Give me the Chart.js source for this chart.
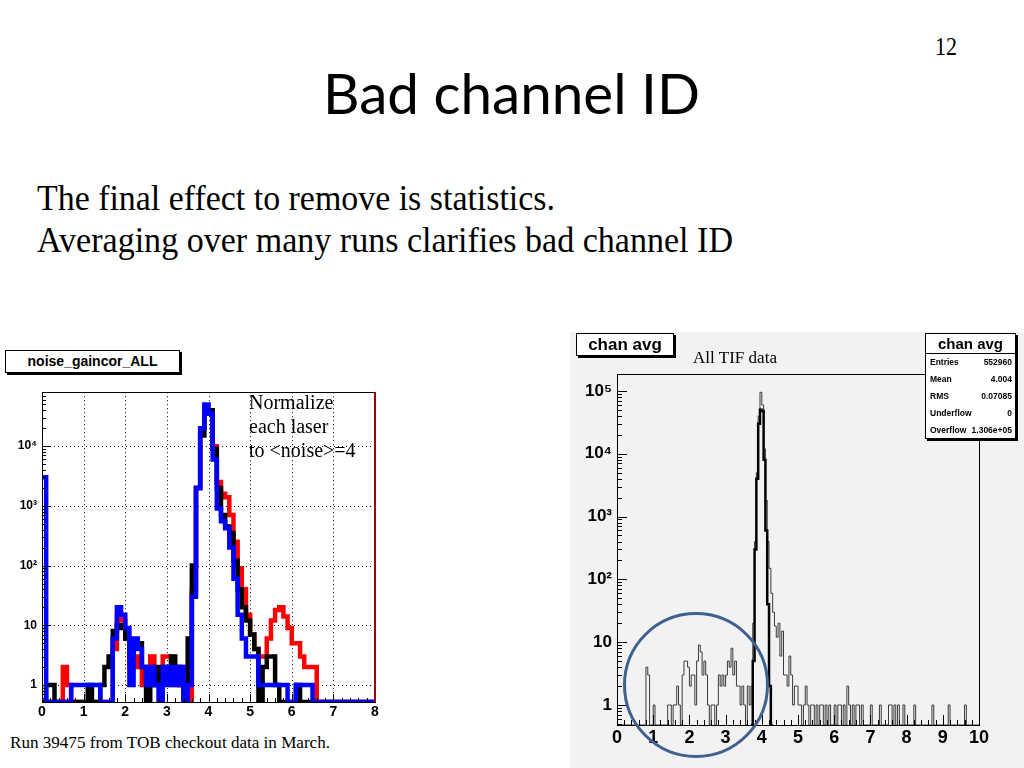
<!DOCTYPE html>
<html>
<head>
<meta charset="utf-8">
<script src="https://cdn.jsdelivr.net/npm/chart.js@4.4.0/dist/chart.umd.min.js"></script>
<style>
  body { margin:0; width:1024px; height:768px; position:relative; overflow:hidden; background:#fff; }
  .t { position:absolute; white-space:nowrap; line-height:1; transform-origin:0 0; font-family:"Liberation Serif","Times New Roman",serif; color:#000; }
  #title { font-family:Lato,"Open Sans",sans-serif; font-size:56px; left:323px; top:65px; }
  .box { position:absolute; background:#fff; border:1px solid #000; box-shadow:2px 2px 0 #000;
         font-family:"Liberation Sans",Arial,sans-serif; font-weight:bold; text-align:center; z-index:3; }
  #pad { position:absolute; left:570px; top:332px; width:454px; height:436px; background:#f2f2f2; }
  canvas { position:absolute; }
  #stats { position:absolute; left:925px; top:333px; width:89px; height:104px; background:#fff;
           border:1px solid #000; box-shadow:2px 2px 0 #000; z-index:3;
           font-family:"Liberation Sans",Arial,sans-serif; font-weight:bold; }
  #stats .sh { height:19px; line-height:19px; font-size:15px; text-align:center; border-bottom:1px solid #000; }
  #stats .sr { display:flex; justify-content:space-between; padding:0 3px 0 4px; height:17px; line-height:17px; font-size:8.5px; }
  #ring { position:absolute; left:623px; top:612px; width:140px; height:140px; border:3px solid #3f6190;
          border-radius:50%; z-index:4; }
</style>
</head>
<body>

<div class="t" style="font-size:26px;left:935px;top:34px" data-w="22">12</div>
<div class="t" id="title" data-w="377">Bad channel ID</div>
<div class="t" style="font-size:36px;left:37px;top:180px" data-w="518">The final effect to remove is statistics.</div>
<div class="t" style="font-size:36px;left:37px;top:222px" data-w="696">Averaging over many runs clarifies bad channel ID</div>

<div class="box" style="left:5px;top:350px;width:173px;height:21px;line-height:21px;font-size:14px">noise_gaincor_ALL</div>
<canvas id="left" width="385" height="345" style="left:0;top:380px"></canvas>
<div class="t" style="font-size:20px;left:249px;top:392px;z-index:2">Normalize</div>
<div class="t" style="font-size:20px;left:249px;top:416px;z-index:2">each laser</div>
<div class="t" style="font-size:20px;left:249px;top:440px;z-index:2">to &lt;noise&gt;=4</div>
<div class="t" style="font-size:16px;left:10px;top:735px" data-w="320">Run 39475 from TOB checkout data in March.</div>

<div id="pad"></div>
<canvas id="right" width="454" height="436" style="left:570px;top:332px"></canvas>
<div class="box" style="left:576px;top:333px;width:96px;height:21px;line-height:21px;font-size:17px">chan avg</div>
<div class="t" style="font-size:16px;left:693px;top:350px;z-index:2" data-w="84">All TIF data</div>
<div id="stats"></div>
<div id="ring"></div>

<script>
// ---- left plot: noise_gaincor_ALL, bins of 0.1 from 0 to 8 ----
var leftBinWidth = 0.1;
var laserBlue = [
  3000,0,0,0,0,0,0,1,1,1,   1,1,1,1,0,0,0,6,20,15,
  9,1,6,4,2,1,2,1,0,2,      1,2,1,2,0,1,30,2000,20000,50000,
  35000,6000,900,550,420,200,60,15,6,3,  3,3,1,1,1,1,1,1,1,0,
  0,1,1,1,1,0,0,0,0,0,      0,0,0,0,0,0,0,0,0,0
];
var laserBlack = [
  0,1,1,0,0,0,0,0,0,0,      0,1,0,0,1,2,3,8,10,9,
  6,3,5,5,2,0,1,2,1,2,      2,3,2,1,0,6,100,2000,15000,40000,
  40000,9000,2000,700,450,350,120,40,20,12,  7,4,0,2,3,3,1,0,0,0,
  0,1,0,0,0,0,0,0,0,0,      0,0,0,0,0,0,0,0,0,0
];
var laserRed = [
  0,0,0,0,0,2,1,0,0,0,      0,0,0,0,0,0,0,4,15,12,
  6,2,3,2,1,1,3,1,1,3,      3,1,1,2,0,0,40,2000,20000,45000,
  40000,10000,2500,1600,1400,700,250,90,40,15,  7,4,3,3,6,12,18,20,14,9,
  5,5,3,2,2,2,0,0,0,0,      0,0,0,0,0,0,0,0,0,0
];
var leftXTicks = [0,1,2,3,4,5,6,7,8];
var leftDecades = [1,10,100,1000,10000];

// ---- right plot: chan avg, bins of 0.05 from 0 to 10 ----
var rightBinWidth = 0.05;
var tifAll = [
  0,0,0,0,0,0,0,0,0,0,  0,0,0,0,0,0,4,3,0,0,
  1,0,0,0,0,0,0,0,1,1,  0,1,1,2,1,0,3,5,5,4,
  2,3,3,1,5,9,7,3,5,3,  1,0,1,1,0,1,3,2,3,2,
  3,5,4,8,3,5,2,2,1,2,  1,0,2,1,2,20,400,5000,40000,95000,
  60000,12000,1800,400,150,60,30,18,12,20,  6,15,3,3,2,6,3,1,2,2,
  1,1,0,1,2,1,0,1,1,0,  1,0,1,1,0,1,0,1,0,0,
  1,0,1,1,0,1,0,2,1,0,  1,0,1,1,0,1,0,0,0,0,
  1,0,0,0,0,1,0,0,0,0,  1,1,0,1,0,1,0,0,1,0,
  0,0,0,0,1,0,0,0,0,0,  0,0,0,0,1,0,0,0,0,0,
  0,0,0,1,0,0,0,0,0,0,  0,0,1,0,0,0,0,0,0,0
];
var tifCoreStart = 3.70;
var tifCore = [0,5,300,4000,30000,50000,48000,8000,600,40,2,0];
var rightXTicks = [0,1,2,3,4,5,6,7,8,9,10];
var rightDecades = [1,10,100,1000,10000,100000];

var statsRows = [['Entries','552960'],['Mean','4.004'],['RMS','0.07085'],['Underflow','0'],['Overflow','1.306e+05']];

// squeeze slide text to the widths seen on the slide
document.querySelectorAll('[data-w]').forEach(function(el) {
  var w = el.getBoundingClientRect().width;
  el.style.transform = 'scaleX(' + (Number(el.dataset.w) / w) + ')';
});

// stats box
var stats = document.getElementById('stats');
stats.innerHTML = '<div class="sh">chan avg</div>' + statsRows.map(function(r) {
  return '<div class="sr"><span>' + r[0] + '</span><span>' + r[1] + '</span></div>';
}).join('');

// histogram -> step points, empty bins sit on the axis floor
function histPoints(counts, start, width, floor) {
  var pts = counts.map(function(c, i) { return { x: start + i * width, y: c > 0 ? c : floor }; });
  var last = counts[counts.length - 1];
  pts.push({ x: start + counts.length * width, y: last > 0 ? last : floor });
  return pts;
}

var sup = { 2: '\u00b2', 3: '\u00b3', 4: '\u2074', 5: '\u2075' };
function decadeLabel(v) {
  var e = Math.round(Math.log10(v));
  if (e === 0) return '1';
  if (e === 1) return '10';
  return '10' + sup[e];
}

// ROOT-like frame: dotted grid, inward ticks, box
var rootFrame = {
  id: 'rootFrame',
  beforeDatasetsDraw: function(chart, args, o) {
    if (!o.grid) return;
    var a = chart.chartArea, x = chart.scales.x, y = chart.scales.y, ctx = chart.ctx;
    ctx.save();
    ctx.strokeStyle = '#000';
    ctx.lineWidth = 1;
    ctx.setLineDash([1, 3]);
    ctx.beginPath();
    o.xTicks.forEach(function(v) {
      var px = Math.round(x.getPixelForValue(v)) + 0.5;
      ctx.moveTo(px, a.top); ctx.lineTo(px, a.bottom);
    });
    o.decades.forEach(function(v) {
      var py = Math.round(y.getPixelForValue(v)) + 0.5;
      ctx.moveTo(a.left, py); ctx.lineTo(a.right, py);
    });
    ctx.stroke();
    ctx.restore();
  },
  afterDatasetsDraw: function(chart, args, o) {
    var a = chart.chartArea, x = chart.scales.x, y = chart.scales.y, ctx = chart.ctx;
    ctx.save();
    ctx.strokeStyle = '#000';
    ctx.lineWidth = 1;
    ctx.beginPath();
    // x ticks
    for (var v = x.min; v <= x.max + 1e-9; v += o.xMinor) {
      var px = Math.round(x.getPixelForValue(v)) + 0.5;
      var major = Math.abs(v - Math.round(v)) < 1e-6;
      ctx.moveTo(px, a.bottom); ctx.lineTo(px, a.bottom - (major ? o.major : o.minor));
    }
    // y ticks
    o.decades.concat([o.decades[o.decades.length - 1] * 10]).forEach(function(d) {
      for (var k = 1; k <= 9; k++) {
        var val = d / 10 * k;
        if (val < y.min || val > y.max) continue;
        var py = Math.round(y.getPixelForValue(val)) + 0.5;
        ctx.moveTo(a.left, py); ctx.lineTo(a.left + (k === 1 ? o.major : o.minor), py);
      }
    });
    ctx.stroke();
    ctx.strokeRect(Math.round(a.left) + 0.5, Math.round(a.top) + 0.5, Math.round(a.right - a.left), Math.round(a.bottom - a.top));
    if (o.rightEdge) {
      ctx.strokeStyle = o.rightEdge;
      ctx.lineWidth = 2;
      ctx.beginPath();
      ctx.moveTo(a.right, a.top); ctx.lineTo(a.right, a.bottom);
      ctx.stroke();
    }
    ctx.restore();
  }
};

function histDataset(points, color, width) {
  return {
    data: points, borderColor: color, borderWidth: width, stepped: true,
    pointRadius: 0, fill: false, tension: 0, borderJoinStyle: 'miter'
  };
}

function axes(xmax, ymin, ymax, decades, yWidth, xHeight, fx, fy) {
  return {
    x: {
      type: 'linear', min: 0, max: xmax,
      grid: { display: false, drawTicks: false }, border: { display: false },
      afterBuildTicks: function(s) { s.ticks = (xmax === 8 ? leftXTicks : rightXTicks).map(function(v) { return { value: v }; }); },
      afterFit: function(s) { s.height = xHeight; },
      ticks: { autoSkip: false, maxRotation: 0, padding: 2, color: '#000',
               font: { family: 'Liberation Sans', weight: 'bold', size: fx } }
    },
    y: {
      type: 'logarithmic', min: ymin, max: ymax,
      grid: { display: false, drawTicks: false }, border: { display: false },
      afterBuildTicks: function(s) { s.ticks = decades.map(function(v) { return { value: v }; }); },
      afterFit: function(s) { s.width = yWidth; },
      ticks: { autoSkip: false, padding: 5, color: '#000', callback: decadeLabel,
               font: { family: 'Liberation Sans', weight: 'bold', size: fy } }
    }
  };
}

var common = {
  responsive: false, animation: false, events: [],
  plugins: { legend: { display: false }, tooltip: { enabled: false } }
};

var LFLOOR = 0.52, LTOP = 8e4;
new Chart(document.getElementById('left'), {
  type: 'line',
  data: { datasets: [
    histDataset(histPoints(laserBlue, 0, leftBinWidth, LFLOOR), '#0000ff', 4.5),
    histDataset(histPoints(laserBlack, 0, leftBinWidth, LFLOOR), '#000000', 4.5),
    histDataset(histPoints(laserRed, 0, leftBinWidth, LFLOOR), '#ff0000', 4.5)
  ] },
  options: Object.assign({}, common, {
    layout: { padding: { top: 9, right: 10, left: 0, bottom: 0 } },
    scales: axes(8, LFLOOR, LTOP, leftDecades, 42, 23, 14, 12),
    plugins: Object.assign({}, common.plugins, {
      rootFrame: { grid: true, xTicks: [1,2,3,4,5,6,7], decades: leftDecades, xMinor: 0.2, major: 8, minor: 4, rightEdge: '#a00000' }
    })
  }),
  plugins: [rootFrame]
});

var RFLOOR = 0.48, RTOP = 1.86e5;
new Chart(document.getElementById('right'), {
  type: 'line',
  data: { datasets: [
    histDataset(histPoints(tifCore, tifCoreStart, rightBinWidth, RFLOOR), '#000000', 2.5),
    histDataset(histPoints(tifAll, 0, rightBinWidth, RFLOOR), '#3a3a3a', 1)
  ] },
  options: Object.assign({}, common, {
    layout: { padding: { top: 42, right: 45, left: 0, bottom: 0 } },
    scales: axes(10, RFLOOR, RTOP, rightDecades, 47, 43, 18, 17),
    plugins: Object.assign({}, common.plugins, {
      rootFrame: { grid: false, xTicks: [], decades: rightDecades, xMinor: 0.2, major: 10, minor: 5 }
    })
  }),
  plugins: [rootFrame]
});
</script>
</body>
</html>
